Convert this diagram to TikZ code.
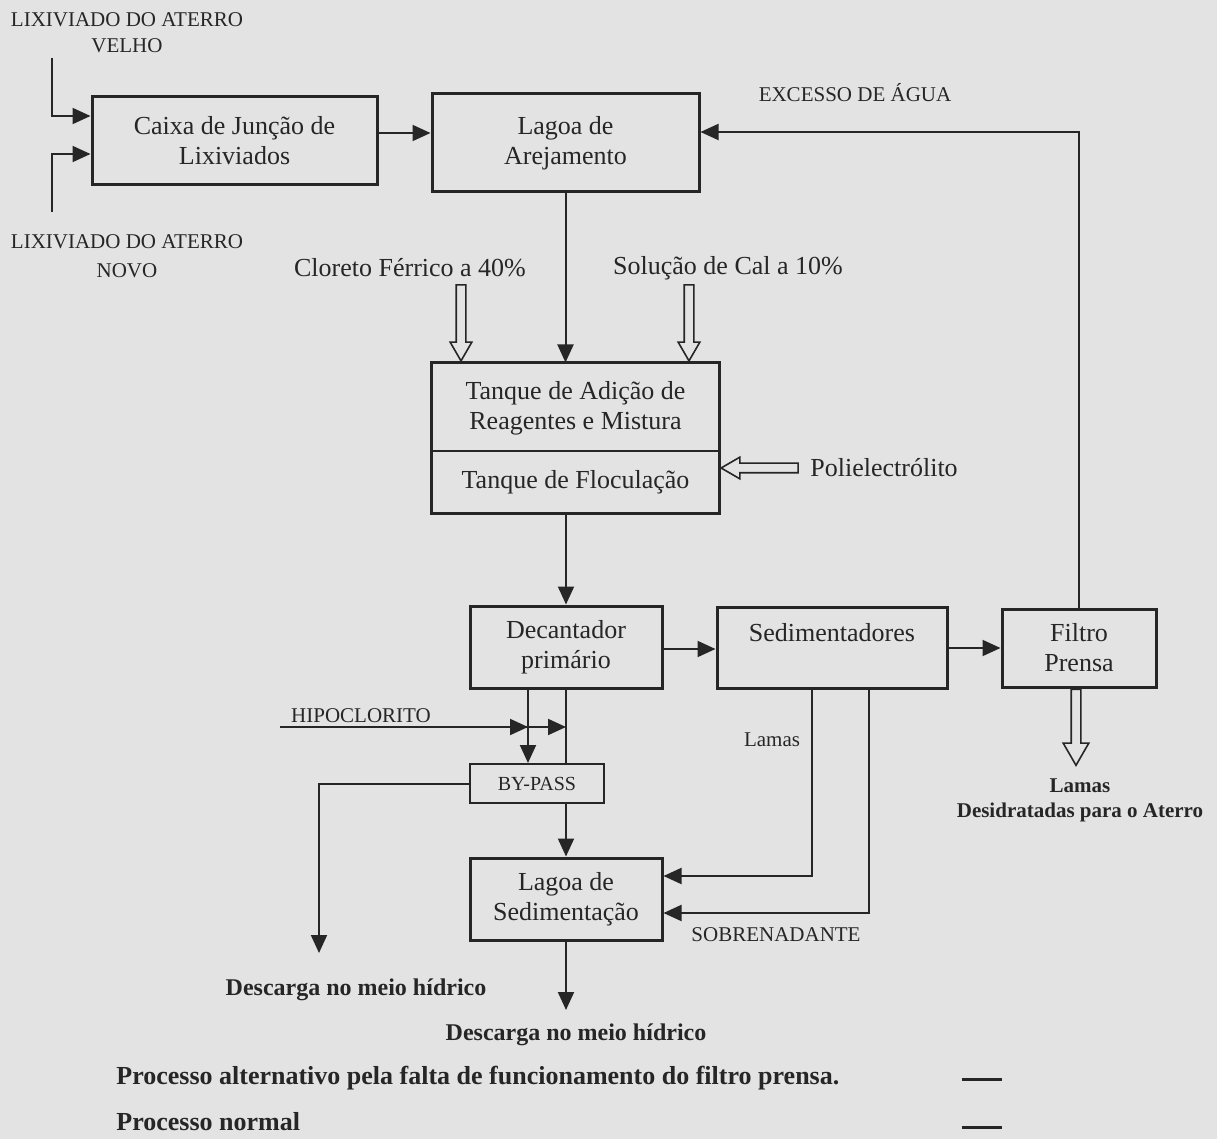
\documentclass[tikz,border=0pt]{standalone}
\usepackage{fontspec}
\setmainfont{Liberation Serif}
\usepackage{xcolor}
\usepackage{tikz}
\usetikzlibrary{
	positioning,						% Relative positioning
	shapes.arrows,						% Hollow arrows
	arrows.meta,						% Arrow tips
	calc								% Coordinate calculations
}
\definecolor{scanGray}{RGB}{227,227,227}
\definecolor{ink}{RGB}{38,38,38}

\begin{document}
\begin{tikzpicture}[x=0.5pt, y=-0.5pt]
		\tikzstyle{procBox} = [draw=ink, line width=1.5pt, align=center, inner sep=0pt, text=ink, font=\fontsize{13}{15}\selectfont]
		\tikzstyle{smallBox} = [draw=ink, line width=1pt, align=center, inner sep=0pt, text=ink, font=\fontsize{10}{12}\selectfont]
		\tikzstyle{flow} = [draw=ink, line width=1pt, -{Triangle[length=9pt, width=8pt]}]
		\tikzstyle{hollowArrow} = [single arrow, draw=ink, line width=0.8pt, fill=scanGray, inner sep=2pt, minimum width=10pt, single arrow head extend=3pt, single arrow tip angle=60]
		\tikzstyle{capLabel} = [text=ink, align=center, inner sep=0pt, font=\fontsize{10.5}{13}\selectfont]
		\tikzstyle{mainLabel} = [text=ink, inner sep=0pt, font=\fontsize{13}{15}\selectfont]
		\tikzstyle{boldLabel} = [text=ink, align=center, inner sep=0pt, font=\fontsize{12}{12.5}\selectfont\bfseries]
		
		% Page
		\fill[scanGray] (0,0) rectangle (1217,1139);
		\useasboundingbox (0,0) rectangle (1217,1139);
		
		% Inputs
		\node[capLabel] (txtVelho) at (127,33) {LIXIVIADO DO ATERRO\\VELHO};
		\node[capLabel] (txtNovo) at (127,256) {LIXIVIADO DO ATERRO\\[1.5pt]NOVO};
		\coordinate (velhoSrc) at (52,58);
		\coordinate (novoSrc) at (52,212);
		
		% Process boxes
		\node[procBox, minimum width=142.5pt, minimum height=44pt] at (234.5,141) (caixa) {Caixa de Junção de\\Lixiviados};
		\node[procBox, minimum width=133.5pt, minimum height=49pt] at (565.5,143) (lagoaArej) {Lagoa de\\Arejamento};
		\node[procBox, draw=none, minimum width=142.5pt, minimum height=44.5pt] at (575.5,408.5) (tanqueMix) {Tanque de Adição de\\Reagentes e Mistura};
		\node[procBox, draw=none, minimum width=142.5pt, minimum height=29.5pt] at (575.5,482.5) (tanqueFloc) {Tanque de Floculação};
		\draw[ink, line width=1.5pt] (tanqueMix.north west) rectangle (tanqueFloc.south east);
		\draw[ink, line width=1pt] (tanqueFloc.north west) -- (tanqueFloc.north east);
		\node[procBox, minimum width=96pt, minimum height=41pt] at (566,647) (decantador) {Decantador\\primário};
		\node[procBox, minimum width=115pt, minimum height=40.5pt] at (832,647.5) (sedimentadores) {Sedimentadores\\~};
		\node[procBox, minimum width=77pt, minimum height=39pt] at (1079,648) (filtro) {Filtro\\Prensa};
		\node[smallBox, minimum width=67pt, minimum height=19.5pt] at (537,783.5) (bypass) {BY-PASS};
		\node[procBox, minimum width=96pt, minimum height=41pt] at (566,899) (lagoaSed) {Lagoa de\\Sedimentação};
		
		%% Reagents
		\node[mainLabel] at (410,268) (txtCloreto) {Cloreto Férrico a 40\%};
		\node[mainLabel] at (728,268) (txtSolucao) {Solução de Cal a 10\%};
		\node[mainLabel, anchor=west] at (810,468) (txtPoli) {Polielectrólito};
		\node[hollowArrow, rotate=-90, minimum height=38pt, anchor=tip] at (tanqueMix.north -| 461,0) (arrCloreto) {};
		\node[hollowArrow, rotate=-90, minimum height=38pt, anchor=tip] at (tanqueMix.north -| 689,0) (arrSolucao) {};
		\node[hollowArrow, rotate=180, minimum height=38.5pt, anchor=tip] at (tanqueFloc.east |- 0,468) (arrPoli) {};
		
		% Main line
		\draw[flow] (velhoSrc) |- (caixa.west |- 0,116);
		\draw[flow] (novoSrc) |- (caixa.west |- 0,154);
		\draw[flow] (caixa.east |- 0,133) -- (lagoaArej.west |- 0,133);
		\draw[flow] (lagoaArej.south) -- (lagoaArej.south |- tanqueMix.north);
		\draw[flow] (tanqueFloc.south -| decantador.north) -- (decantador.north);
		\draw[flow] (decantador.east |- 0,649) -- (sedimentadores.west |- 0,649);
		\draw[flow] (sedimentadores.east |- filtro.west) -- (filtro.west);
		\draw[draw=ink, line width=1pt] (decantador.south) -- (decantador.south |- bypass.north);
		\draw[flow] (bypass.south -| lagoaSed.north) -- (lagoaSed.north);
		\coordinate (descargaIn) at (566,1010);
		\draw[flow] (lagoaSed.south) -- (descargaIn);
		
		%% Water excess back to the lagoon
		\node[capLabel] at (855,93) (txtExcesso) {EXCESSO DE ÁGUA};
		\draw[flow] (filtro.north) |- (lagoaArej.east |- 0,132);
		
		%% Sludge from the press
		\node[hollowArrow, rotate=-90, minimum height=38pt, minimum width=12pt, single arrow head extend=4pt, anchor=tail] at (filtro.south -| 1076,0) (arrLamas) {};
		\node[boldLabel, font=\fontsize{10.5}{12.5}\selectfont\bfseries] at (1080,800) (txtLamasDes) {Lamas\\Desidratadas para o Aterro};
		
		%% Returns from the settlers
		\node[capLabel] at (772,740) (txtLamas) {Lamas};
		\node[capLabel] at (776,935) (txtSobre) {SOBRENADANTE};
		\draw[flow] (sedimentadores.south -| 812,0) |- (lagoaSed.east |- 0,876);
		\draw[flow] (sedimentadores.south -| 869,0) |- (lagoaSed.east |- 0,913);
		
		% Alternative line (by-pass)
		\node[capLabel] at (361,716) (txtHipo) {HIPOCLORITO};
		\coordinate (hipoSrc) at (280,727);
		\draw[flow] (hipoSrc) -- (hipoSrc -| decantador.south);
		\draw[flow] (hipoSrc) -- (hipoSrc -| 528,0);
		\draw[flow] (decantador.south -| 528,0) -- (bypass.north -| 528,0);
		\coordinate (descargaAltIn) at (319,953);
		\draw[flow] (bypass.west) -| (descargaAltIn);
		
		% Outlets
		\node[boldLabel] at (356,990) (txtDescargaAlt) {Descarga no meio hídrico};
		\node[boldLabel] at (576,1035) (txtDescarga) {Descarga no meio hídrico};
		
		% Legend
		\node[boldLabel, anchor=west, font=\fontsize{13}{15}\selectfont\bfseries] at (116,1078) (txtAlt) {Processo alternativo pela falta de funcionamento do filtro prensa.};
		\node[boldLabel, anchor=west, font=\fontsize{13}{15}\selectfont\bfseries] at (116,1122) (txtNormal) {Processo normal};
		\coordinate (legAlt) at (962,1079);
		\coordinate (legNormal) at (962,1127);
		\foreach \leg in {legAlt, legNormal}{
			\draw[ink, line width=1.5pt] (\leg) -- ++(40,0);
		}
	\end{tikzpicture}
\end{document}
